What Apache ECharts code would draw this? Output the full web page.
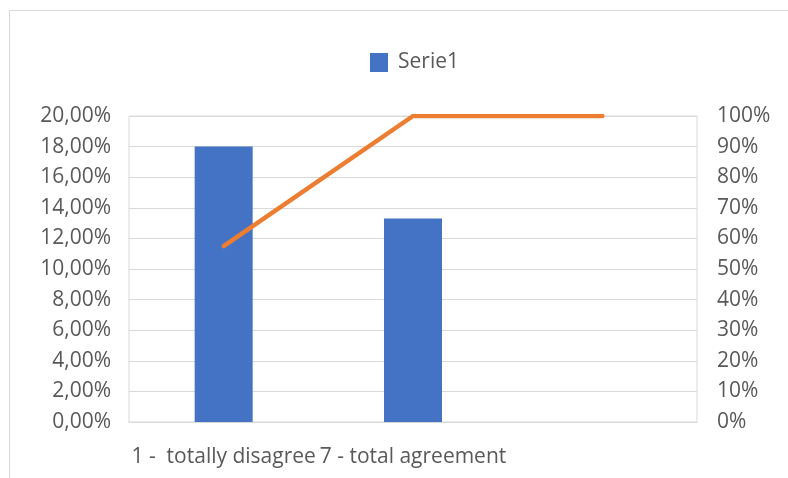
<!DOCTYPE html>
<html>
<head>
<meta charset="utf-8">
<script src="https://cdn.jsdelivr.net/npm/echarts@6/dist/echarts.min.js"></script>
<style>
html,body{margin:0;padding:0;background:#fff;}
#c{width:788px;height:478px;}
</style>
</head>
<body>
<div id="c"></div>
<script>
const categories = ['1 -  totally disagree', '7 - total agreement', ''];
const barValues = [18.0, 13.3, null];
const cumulativeValues = [57.5, 100, 100];
const leftTicks = {min: 0, max: 20, interval: 2};
const rightTicks = {min: 0, max: 100, interval: 10};

const FONT = 'Open Sans';
const FS = 21;
const TXT = '#595959';
const chart = echarts.init(document.getElementById('c'));
chart.setOption({
  animation: false,
  backgroundColor: '#fff',
  graphic: [{
    type: 'rect', left: 7, top: 8, shape: {width: 800, height: 480},
    style: {fill: 'none', stroke: '#d9d9d9', lineWidth: 1}, silent: true
  }],
  legend: {
    data: [{name: 'Serie1', icon: 'rect'}],
    top: 47, left: 365,
    itemWidth: 18, itemHeight: 19, itemGap: 10,
    textStyle: {fontFamily: FONT, fontSize: FS, color: TXT, padding: [0, 0, 0, 5]}
  },
  grid: {left: 129, right: 91, top: 116, bottom: 56, show: true, borderColor: '#d9d9d9', borderWidth: 1},
  xAxis: {
    type: 'category', data: categories,
    axisLine: {show: true, lineStyle: {color: '#d9d9d9'}},
    axisTick: {show: false},
    axisLabel: {fontFamily: FONT, fontSize: FS, color: TXT, margin: 25, interval: 0}
  },
  yAxis: [{
    type: 'value', min: leftTicks.min, max: leftTicks.max, interval: leftTicks.interval,
    axisLabel: {fontFamily: FONT, fontSize: FS, color: TXT, margin: 18, padding: [4, 0, 0, 0],
      formatter: v => v.toFixed(2).replace('.', ',') + '%'},
    splitLine: {lineStyle: {color: '#d9d9d9', width: 1}},
    axisLine: {show: false}, axisTick: {show: false}
  }, {
    type: 'value', min: rightTicks.min, max: rightTicks.max, interval: rightTicks.interval,
    axisLabel: {fontFamily: FONT, fontSize: FS, color: TXT, margin: 20, padding: [4, 0, 0, 0],
      formatter: v => v + '%'},
    splitLine: {show: false},
    axisLine: {show: false}, axisTick: {show: false}
  }],
  series: [{
    name: 'Serie1', type: 'bar', data: barValues, barWidth: 58,
    itemStyle: {color: '#4472C4'}
  }, {
    name: 'Cumulative', type: 'line', yAxisIndex: 1, data: cumulativeValues,
    showSymbol: false, symbol: 'none',
    lineStyle: {color: '#ED7D31', width: 4.5, cap: 'round', join: 'round'},
    itemStyle: {color: '#ED7D31'}
  }]
});
</script>
</body>
</html>
